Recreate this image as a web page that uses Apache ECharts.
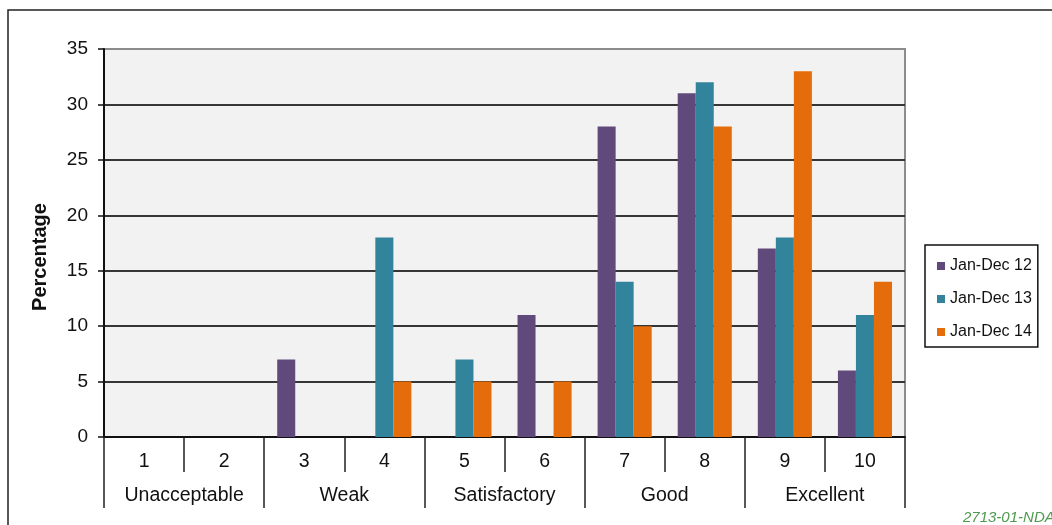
<!DOCTYPE html>
<html>
<head>
<meta charset="utf-8">
<script src="https://cdn.jsdelivr.net/npm/echarts@6/dist/echarts.min.js"></script>
<style>
html,body{margin:0;padding:0;background:#fff;}
#chart{width:1052px;height:525px;}
</style>
</head>
<body>
<div id="chart"></div>
<script>
const categories = ['1','2','3','4','5','6','7','8','9','10'];
const groups = ['Unacceptable','Weak','Satisfactory','Good','Excellent'];
const yTicks = [0,5,10,15,20,25,30,35];
const seriesNames = ['Jan-Dec 12','Jan-Dec 13','Jan-Dec 14'];
const jan12 = [0,0,7,0,0,11,28,31,17,6];
const jan13 = [0,0,0,18,7,0,14,32,18,11];
const jan14 = [0,0,0,5,5,5,10,28,33,14];
const colors = ['#604a7b','#31849b','#e46c0a'];

const chart = echarts.init(document.getElementById('chart'), null, {renderer:'canvas'});
const font = 'Liberation Sans, Arial, sans-serif';
const splitColors = yTicks.map((v,i)=> i===yTicks.length-1 ? '#8c8c8c' : '#363636');

const option = {
  animation:false,
  backgroundColor:'#ffffff',
  textStyle:{fontFamily:font},
  color:colors,
  grid:{left:104,right:147,top:49,bottom:88,show:true,backgroundColor:'#f2f2f2',borderColor:'#8c8c8c',borderWidth:2,containLabel:false},
  legend:{
    orient:'vertical',left:925,top:245,
    padding:[13,6,7,12],
    itemWidth:8,itemHeight:8,itemGap:17,
    borderColor:'#111',borderWidth:1.5,
    icon:'rect',
    textStyle:{fontSize:16,color:'#111',fontFamily:font,lineHeight:16},
    data:seriesNames
  },
  xAxis:[
    {type:'category',data:categories,position:'bottom',
     axisLine:{show:true,lineStyle:{color:'#111',width:2}},
     axisTick:{show:true,length:35,interval:0,lineStyle:{color:'#222',width:1.5}},
     axisLabel:{fontSize:19.5,color:'#111',margin:15,interval:0,fontFamily:font},
     splitLine:{show:false}},
    {type:'category',data:groups,position:'bottom',offset:35,
     axisLine:{show:false},
     axisTick:{show:true,length:36,interval:0,lineStyle:{color:'#222',width:1.5}},
     axisLabel:{fontSize:19.5,color:'#111',margin:14,interval:0,fontFamily:font},
     splitLine:{show:false}}
  ],
  yAxis:{type:'value',min:0,max:35,interval:5,
    axisLine:{show:true,lineStyle:{color:'#111',width:2}},
    axisTick:{show:true,length:6,lineStyle:{color:'#111',width:1.5}},
    axisLabel:{fontSize:19,color:'#111',margin:16,fontFamily:font},
    splitLine:{show:true,lineStyle:{color:splitColors,width:2}}
  },
  series:[
    {name:seriesNames[0],type:'bar',data:jan12,barGap:'0%',barCategoryGap:'32.5%',xAxisIndex:0},
    {name:seriesNames[1],type:'bar',data:jan13,barGap:'0%',barCategoryGap:'32.5%',xAxisIndex:0},
    {name:seriesNames[2],type:'bar',data:jan14,barGap:'0%',barCategoryGap:'32.5%',xAxisIndex:0}
  ],
  graphic:[
    {type:'polyline',shape:{points:[[8,530],[8,10],[1060,10]]},style:{stroke:'#222',lineWidth:1.5,fill:null},silent:true},
    {type:'text',x:40,y:257,rotation:Math.PI/2,style:{text:'Percentage',fontSize:20,fontWeight:'bold',fill:'#111',fontFamily:font,textAlign:'center',textVerticalAlign:'middle'}},
    {type:'text',left:963,top:510,style:{text:'2713-01-NDA',fontSize:15,fontStyle:'italic',fill:'#4f9a4f',fontFamily:font}}
  ]
};
chart.setOption(option);
</script>
</body>
</html>
